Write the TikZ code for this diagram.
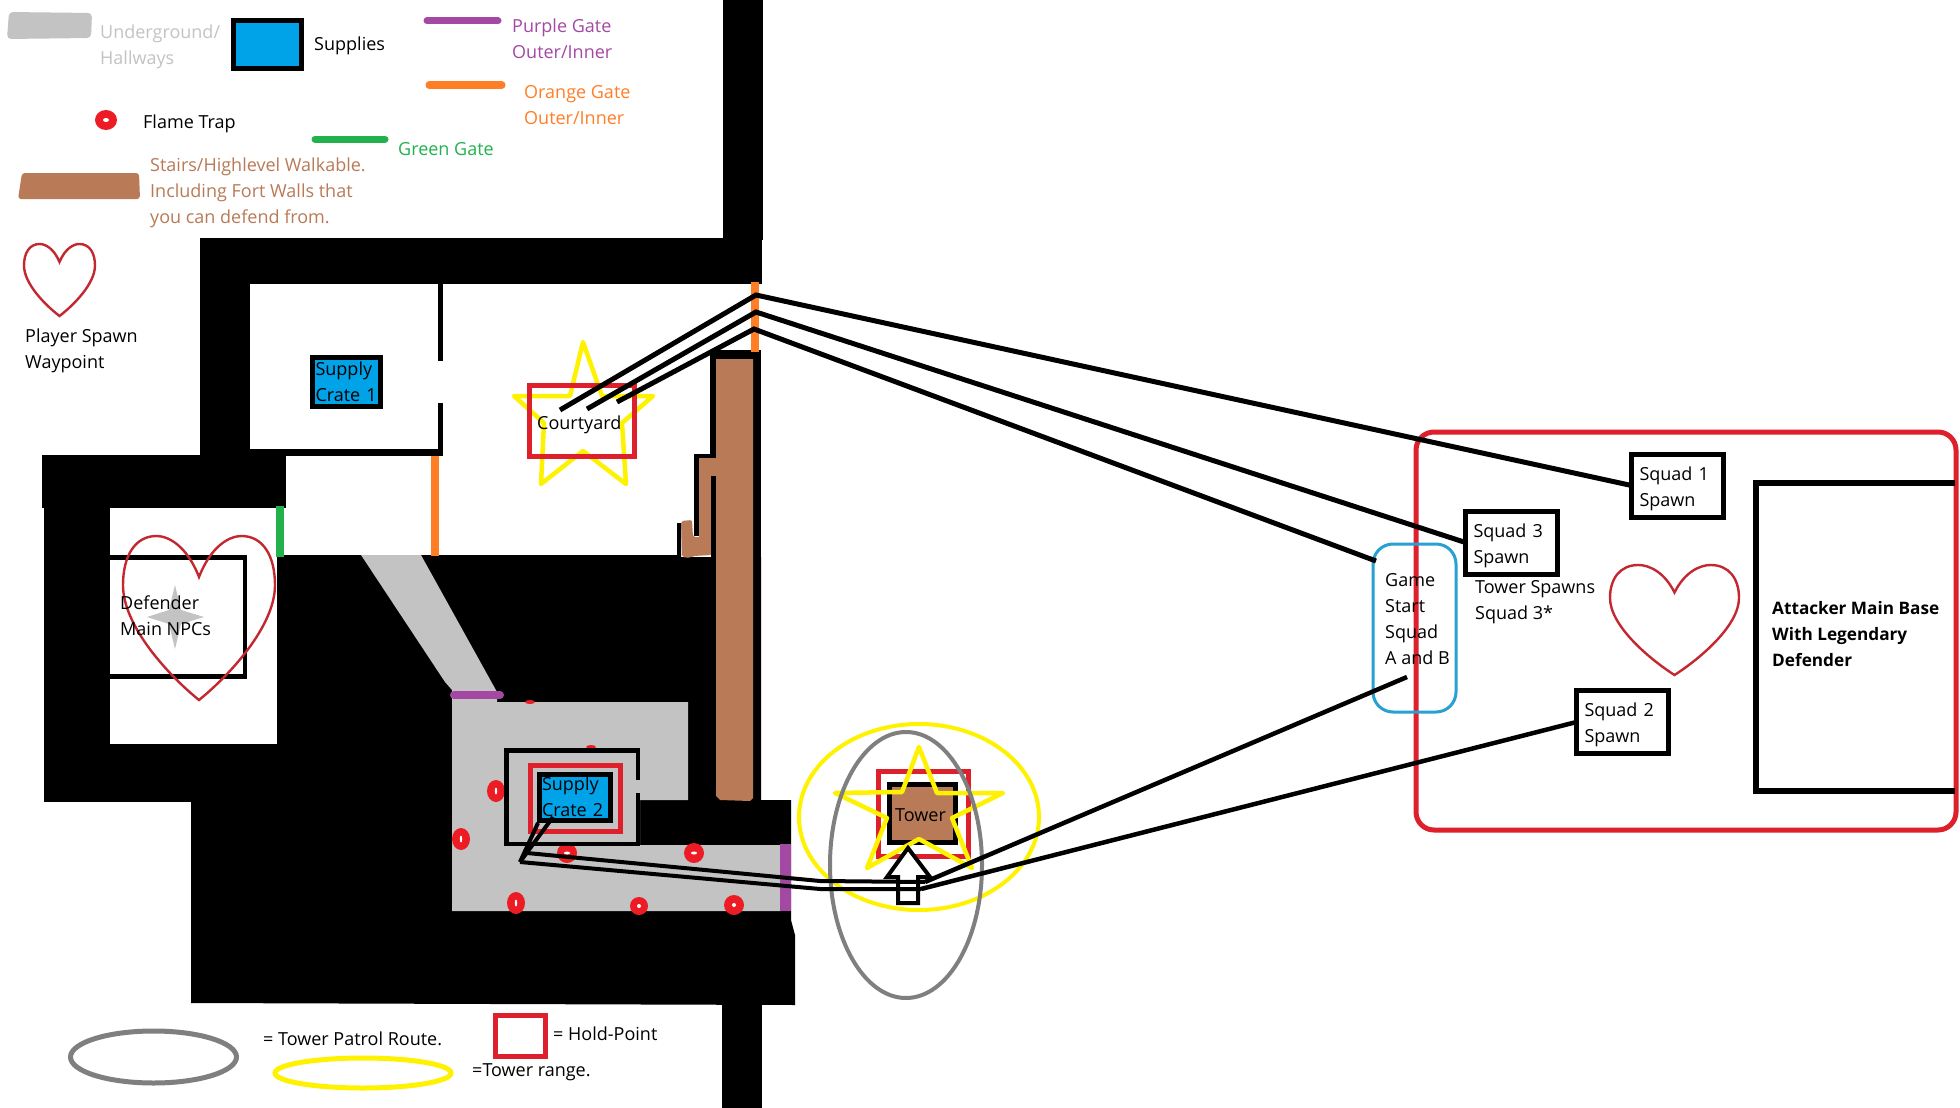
\documentclass[tikz,border=0pt]{standalone}
\usepackage{fontspec}
\setmainfont{Open Sans}
\definecolor{cPurple}{RGB}{163,73,164}
\definecolor{cOrange}{RGB}{255,127,39}
\definecolor{cGreen}{RGB}{34,177,76}
\definecolor{cBlue}{RGB}{0,162,232}
\definecolor{cRed}{RGB}{221,32,44}
\definecolor{cTrap}{RGB}{237,28,36}
\definecolor{cHeart}{RGB}{195,40,48}
\definecolor{cBrown}{RGB}{185,122,87}
\definecolor{cGray}{RGB}{195,195,195}
\definecolor{cRoute}{RGB}{127,127,127}
\definecolor{cYellow}{RGB}{255,242,0}
\definecolor{cSky}{RGB}{40,160,210}
\tikzset{
  lbl/.style={anchor=west,inner sep=0pt,align=left,font=\fontsize{18}{26}\selectfont},
  wall/.style={fill=black,draw=none},
  gateline/.style={line width=#1,line cap=round},
  wire/.style={draw=black,line width=5pt,line join=miter},
  route/.style={draw=black,line width=4pt,line join=bevel},
  spawnbox/.style={draw=black,line width=5pt,inner sep=0pt,outer sep=0pt,minimum width=92pt,minimum height=63pt,text width=76pt,align=left,font=\fontsize{18}{26}\selectfont,execute at begin node={\rule{0pt}{20pt}}},
  crate/.style={draw=black,fill=cBlue,line width=5pt,inner sep=0pt,outer sep=0pt,align=left,font=\fontsize{18}{26}\selectfont},
  hold/.style={draw=cRed,line width=5pt,inner sep=0pt,outer sep=0pt},
  heartline/.style={draw=cHeart,line width=2.4pt},
  starline/.style={draw=cYellow,line width=4.5pt,line join=round},
}
\newcommand\myheart[4]{\draw[heartline,shift={(#1,#2)},xscale=#3,yscale=#4]
  (0.5,0.25) .. controls (0.42,0.06) and (0.3,0) .. (0.22,0)
  .. controls (0.08,0) and (0,0.12) .. (0,0.3)
  .. controls (0,0.55) and (0.3,0.85) .. (0.5,1)
  .. controls (0.7,0.85) and (1,0.55) .. (1,0.3)
  .. controls (1,0.12) and (0.92,0) .. (0.78,0)
  .. controls (0.7,0) and (0.58,0.06) .. (0.5,0.25) -- cycle;}
\newcommand\mytrap[6]{\fill[cTrap] (#1,#2) ellipse [x radius=#3pt,y radius=#4pt];
  \fill[white] (#1,#2) ellipse [x radius=#5pt,y radius=#6pt];}
\begin{document}
\begin{tikzpicture}[x=1pt,y=-1pt]
\useasboundingbox (0,0) rectangle (1960,1108);
\fill[white] (0,0) rectangle (1960,1108);
% --- structure
\fill[wall] (723,0) rectangle (763,240);
\fill[wall] (200,238) rectangle (762,284);
\fill[wall] (200,238) rectangle (250,460);
\fill[wall] (42,455) rectangle (286,508);
\fill[wall] (44,500) rectangle (110,802);
\fill[wall] (44,744) rectangle (191,802);
\fill[wall] (277,555) -- (677,555) -- (677,523) -- (681,523) -- (681,557) -- (761,557) -- (761,800) -- (791,800) -- (791,920) -- (795,935) -- (795,1005) -- (191,1003) -- (191,744) -- (277,744) -- cycle;
\fill[wall] (722,1000) rectangle (762,1108);
\fill[wall] (753,350) rectangle (761,800);
\fill[wall] (710,350) rectangle (761,360);
\fill[wall] (710,350) rectangle (716,458);
\fill[wall] (694,454) rectangle (716,458);
\fill[wall] (694,454) rectangle (699,536);
\fill[wall] (438,284) rectangle (443,361);
\fill[wall] (438,403) rectangle (443,455);
\fill[wall] (250,449) rectangle (443,456);
% defender room
\fill[wall] (110,555) rectangle (247,560);
\fill[wall] (110,674) rectangle (247,679);
\fill[wall] (243,555) rectangle (247,679);
% gray floors
\fill[cGray] (361,555) -- (421,555) -- (497,692) -- (497,702) -- (688,702) -- (688,800) -- (640,800) -- (640,845) -- (781,845) -- (781,911) -- (452,911) -- (452,690) -- (445,682) -- cycle;
\fill[cTrap] (530,702) ellipse [x radius=5pt,y radius=2pt];
\mytrap{496}{791}{9}{11}{1.2}{3.5}
\mytrap{461}{839}{9}{11}{1.2}{3.5}
\mytrap{567}{853}{10}{10}{3}{1.5}
\mytrap{694}{853}{10}{10}{3}{1.5}
\mytrap{516}{903}{9}{11}{1.2}{3.5}
\mytrap{639}{906}{9}{9}{2}{2}
\mytrap{734}{905}{10}{10}{2}{2}
\fill[cTrap] (591,747) ellipse [x radius=5pt,y radius=2pt];
% supply room 2 walls
\fill[wall] (504,748) rectangle (640,753);
\fill[wall] (504,748) rectangle (509,846);
\fill[wall] (636,748) rectangle (640,780);
\fill[wall] (636,793) rectangle (640,846);
\fill[wall] (504,842) rectangle (640,846);
% brown
\fill[cBrown] (716,359) -- (753,359) -- (753,798) -- (750,801) -- (720,800) -- (716,796) -- cycle;
\fill[cBrown] (699,458) rectangle (716,476);
\fill[cBrown] (699,458) rectangle (711,547);
\fill[cBrown,rounded corners=2pt] (681,521) -- (692,520) -- (693,537) -- (712,537) -- (712,555) -- (693,556) -- (690,558) -- (682,557) -- cycle;
\fill[wall] (711,476) rectangle (716,557);
% gates
\draw[cOrange,gateline=8pt,line cap=butt] (755,282) -- (755,352);
\draw[cOrange,gateline=8pt,line cap=butt] (435,456) -- (435,556);
\draw[cGreen,gateline=8pt,line cap=butt] (280,506) -- (280,557);
\draw[cPurple,gateline=8pt] (454,695) -- (500,695);
\fill[cPurple] (780,844) rectangle (791,911);
% --- legend
\fill[cGray,rounded corners=4pt] (9,12) -- (92,13) -- (91,38) -- (7,39) -- cycle;
\node[lbl,text=cGray] (lunder) at (100,46.5) {Underground/\\Hallways};
\node[crate,minimum width=68pt,minimum height=48pt] (lsup) at (267.5,45) {};
\node[lbl] (lsupt) at (314,46) {Supplies};
\draw[cPurple,gateline=7pt] (427,21) -- (498,21);
\node[lbl,text=cPurple] (lpurple) at (512,39) {Purple Gate\\Outer/Inner};
\draw[cOrange,gateline=7pt] (429,85) -- (502,85);
\node[lbl,text=cOrange] (lorange) at (524,105) {Orange Gate\\Outer/Inner};
\mytrap{106}{120}{11}{10}{3}{2}
\node[lbl] (ltrap) at (143,123.5) {Flame Trap};
\draw[cGreen,gateline=7pt] (315,139) -- (385,139);
\node[lbl,text=cGreen] (lgreen) at (398,149) {Green Gate};
\fill[cBrown,rounded corners=3pt] (22,173) -- (139,173) -- (140,199) -- (18,199) -- cycle;
\node[lbl,text=cBrown] (lstairs) at (150,193) {Stairs/Highlevel Walkable.\\Including Fort Walls that\\you can defend from.};
\myheart{24}{244}{71}{72}
\node[lbl] (lspawn) at (25,350.5) {Player Spawn\\Waypoint};
% --- supply crate 1
\node[crate,minimum width=68pt,minimum height=49pt,text width=62pt] (crate1) at (346.5,382) {Supply\\Crate 1};
% --- courtyard
\draw[starline] (583,342) -- (602,396) -- (653,396) -- (622,423) -- (626,484) -- (583,451) -- (541,484) -- (544,423) -- (514,396) -- (570,396) -- cycle;
\node[hold,minimum width=105pt,minimum height=71pt] (court) at (582,421) {};
\node[lbl] (courtt) at (537,424.5) {Courtyard};
% --- defender
\fill[cGray] (175,585) -- (181,610) -- (204,617) -- (181,624) -- (175,649) -- (169,624) -- (147,617) -- (169,610) -- cycle;
\myheart{123}{536}{152}{164}
\node[lbl] (ldef) at (120,616) {Defender\\Main NPCs};
% --- supply crate 2
\node[hold,minimum width=90pt,minimum height=66pt] (hold2) at (575.5,798.5) {};
\node[crate,minimum width=71pt,minimum height=46pt,text width=66pt] (crate2) at (575,797) {Supply\\Crate 2};
% --- tower
\node[draw=black,fill=cBrown,line width=5pt,inner sep=0pt,outer sep=0pt,minimum width=66pt,minimum height=58pt] (tower) at (922.5,813.5) {};
\node[hold,minimum width=90pt,minimum height=85pt] (hold3) at (923.5,814) {};
\draw[starline] (919,747) -- (937,793) -- (1003,793) -- (952,818) -- (972,868) -- (919,839) -- (867,868) -- (887,818) -- (835,793) -- (902,792) -- cycle;
\node[lbl] (towert) at (895,815) {Tower};
\draw[cYellow,line width=4pt] (919,817) ellipse [x radius=120pt,y radius=93pt];
\draw[cRoute,line width=4pt] (906,865) ellipse [x radius=76pt,y radius=133pt];
\draw[draw=black,fill=white,line width=4pt,line join=miter] (908,848) -- (930,877) -- (918,877) -- (918,903) -- (898,903) -- (898,877) -- (887,877) -- cycle;
% --- attacker area
\draw[cRed,line width=5pt,rounded corners=18pt] (1416,432) rectangle (1956,830);
\draw[black,line width=6pt] (1955,483) -- (1756,483) -- (1756,791) -- (1955,791);
\node[anchor=west,inner sep=0pt,align=left,font=\fontsize{17.2}{26}\bfseries\selectfont] (lbase) at (1772,634) {Attacker Main Base\\With Legendary\\Defender};
\draw[cSky,line width=3pt,rounded corners=20pt] (1373,544) rectangle (1456,712);
\node[lbl] (lgame) at (1385,619) {Game\\Start\\Squad\\A and B};
\myheart{1610}{565}{129}{110}
\node[spawnbox] (sq1) at (1677.5,485.5) {Squad 1\\Spawn};
\node[spawnbox] (sq3) at (1511.5,542.5) {Squad 3\\Spawn};
\node[spawnbox] (sq2) at (1622.5,722) {Squad 2\\Spawn};
\node[lbl] (ltower) at (1475,602.5) {Tower Spawns\\Squad 3*};
% --- connectors
\coordinate (c1a) at (560,410); \coordinate (c1b) at (756,295);
\coordinate (c2a) at (587,409); \coordinate (c2b) at (756,312);
\coordinate (c3a) at (617,402); \coordinate (c3b) at (754,329);
\coordinate (gs) at (1376,561); \coordinate (gs2) at (1407,677);
\coordinate (r0) at (520,862); \coordinate (r1) at (527,853);
\coordinate (r2) at (925,882); \coordinate (r3) at (921,889);
\coordinate (w1) at (553,817); \coordinate (w2) at (538,823);
\draw[wire] (c1a) -- (c1b) -- (sq1.west);
\draw[wire] (c2a) -- (c2b) -- (sq3.west);
\draw[wire] (c3a) -- (c3b) -- (gs);
\draw[route] (w1) -- (r0);
\draw[route] (w2) -- (r0);
\draw[route] (r1) -- (820,881) -- (r2);
\draw[wire,line width=4.5pt] (r2) -- (gs2);
\draw[route] (r0) -- (820,889) -- (r3);
\draw[wire,line width=4.5pt] (r3) -- (sq2.west);
% --- bottom legend
\draw[cRoute,line width=5pt] (153.5,1057) ellipse [x radius=83pt,y radius=26pt];
\node[lbl] (lpatrol) at (263,1039) {= Tower Patrol Route.};
\draw[cYellow,line width=5pt] (363,1073) ellipse [x radius=88pt,y radius=15pt];
\node[lbl] (lrange) at (472,1072) {=Tower range.};
\node[hold,minimum width=50pt,minimum height=41pt] (lhold) at (520,1035.5) {};
\node[lbl] (lholdt) at (553,1034) {= Hold-Point};
\end{tikzpicture}
\end{document}
